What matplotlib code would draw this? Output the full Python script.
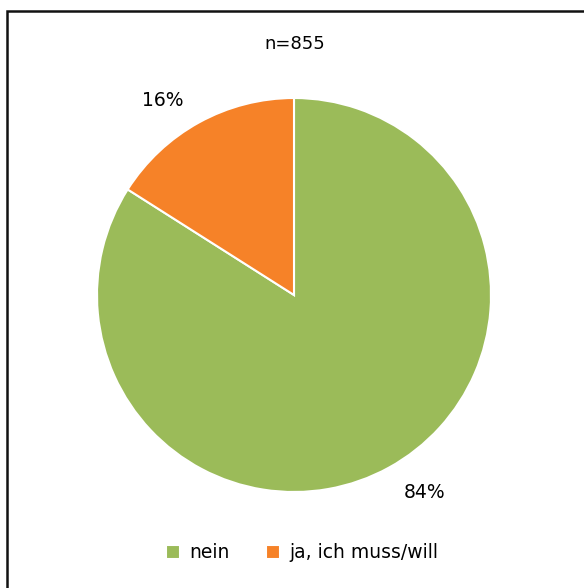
import matplotlib.pyplot as plt
from matplotlib.patches import Rectangle

labels = ['nein', 'ja, ich muss/will']
values = [84, 16]
colors = ['#9BBB59', '#F68228']
n_text = 'n=855'

W, H = 584, 588
fig = plt.figure(figsize=(W / 100, H / 100), dpi=100)

# frame (right and bottom edges are outside the picture)
fig.patches.append(Rectangle((7 / W, -0.1), 1.2, 1 - 11 / H + 0.1, transform=fig.transFigure,
                             fill=False, edgecolor='#111111', linewidth=1.8))

cx, cy, r = 294, 295, 197
ax = fig.add_axes([(cx - r) / W, 1 - (cy + r) / H, 2 * r / W, 2 * r / H])
wedges, _ = ax.pie(values, colors=colors, startangle=90, counterclock=False,
                   wedgeprops=dict(edgecolor='white', linewidth=1.5))
ax.set_xlim(-1, 1)
ax.set_ylim(-1, 1)
ax.set_aspect('equal')

ax.text((425 - cx) / r, (cy - 492) / r, f'{values[0]}%', ha='center', va='center', fontsize=13.5)
ax.text((163 - cx) / r, (cy - 100) / r, f'{values[1]}%', ha='center', va='center', fontsize=13.5)

fig.text(295 / W, 1 - 44 / H, n_text, ha='center', va='center', fontsize=13)

fig.legend(wedges, labels, loc='center', bbox_to_anchor=(302 / W, 1 - 553 / H), ncol=2,
           frameon=False, fontsize=13.5, handlelength=0.75, handleheight=0.75,
           handletextpad=0.5, columnspacing=1.9)

fig.savefig('out.png', dpi=100)
